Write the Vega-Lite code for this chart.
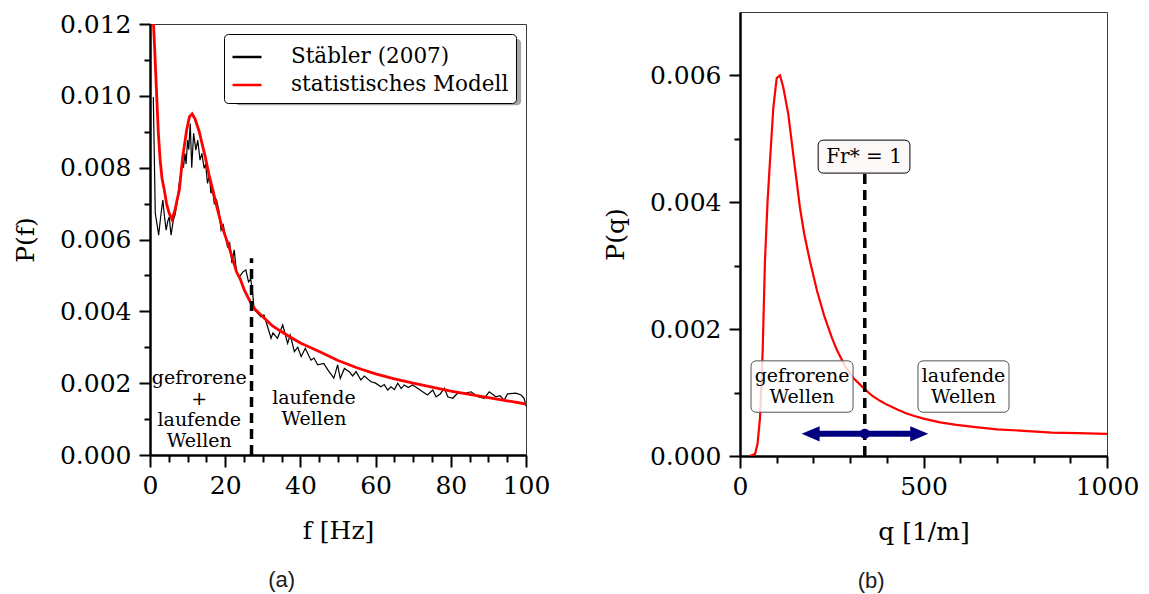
{
  "$schema": "https://vega.github.io/schema/vega-lite/v6.json",
  "padding": {"left": 12, "top": 11, "right": 5, "bottom": 5},
  "background": "white",
  "spacing": 51,
  "resolve": {"scale": {"color": "independent"}},
  "config": {
    "font": "DejaVu Serif",
    "view": {"stroke": "#3a3a3a", "strokeWidth": 1},
    "axis": {
      "labelFont": "DejaVu Serif", "labelFontSize": 25, "labelColor": "black",
      "titleFont": "DejaVu Serif", "titleFontSize": 25, "titleFontWeight": "normal", "titleColor": "black",
      "domainColor": "black", "domainWidth": 2.5, "tickColor": "black", "tickWidth": 2,
      "grid": false, "labelOverlap": false, "labelFlush": false
    }
  },
  "datasets": {
    "staebler": [
      {"f": 0.88, "P": 0.00997}, {"f": 1.4, "P": 0.00673}, {"f": 1.9, "P": 0.0064}, {"f": 2.3, "P": 0.00612},
      {"f": 2.8, "P": 0.0066}, {"f": 3.4, "P": 0.0071}, {"f": 3.9, "P": 0.0066}, {"f": 4.3, "P": 0.00626},
      {"f": 4.7, "P": 0.0065}, {"f": 5.1, "P": 0.00663}, {"f": 5.6, "P": 0.00612}, {"f": 6.2, "P": 0.00654},
      {"f": 6.7, "P": 0.0067}, {"f": 7.3, "P": 0.0071}, {"f": 7.7, "P": 0.0075}, {"f": 8.2, "P": 0.00784},
      {"f": 8.6, "P": 0.0082}, {"f": 8.9, "P": 0.008}, {"f": 9.3, "P": 0.0084}, {"f": 9.6, "P": 0.0081},
      {"f": 10.0, "P": 0.00877}, {"f": 10.3, "P": 0.0085}, {"f": 10.7, "P": 0.00923}, {"f": 11.1, "P": 0.008},
      {"f": 11.6, "P": 0.00896}, {"f": 12.2, "P": 0.00849}, {"f": 12.7, "P": 0.00877}, {"f": 13.3, "P": 0.00821},
      {"f": 13.8, "P": 0.0084}, {"f": 14.4, "P": 0.00798}, {"f": 14.8, "P": 0.0081}, {"f": 15.3, "P": 0.00756},
      {"f": 15.8, "P": 0.0078}, {"f": 16.2, "P": 0.00729}, {"f": 16.6, "P": 0.0074}, {"f": 17.1, "P": 0.007},
      {"f": 17.7, "P": 0.0071}, {"f": 18.3, "P": 0.00682}, {"f": 18.9, "P": 0.00626}, {"f": 19.5, "P": 0.0064},
      {"f": 19.9, "P": 0.00617}, {"f": 20.6, "P": 0.0058}, {"f": 21.2, "P": 0.0059}, {"f": 21.8, "P": 0.00534},
      {"f": 22.4, "P": 0.00571}, {"f": 23.0, "P": 0.0051}, {"f": 23.8, "P": 0.00496}, {"f": 24.7, "P": 0.0051},
      {"f": 25.5, "P": 0.00515}, {"f": 26.2, "P": 0.00482}, {"f": 26.8, "P": 0.0049}, {"f": 27.3, "P": 0.0045},
      {"f": 27.7, "P": 0.00405}, {"f": 28.6, "P": 0.00395}, {"f": 29.5, "P": 0.00385}, {"f": 30.3, "P": 0.0039},
      {"f": 31.2, "P": 0.0036}, {"f": 32.2, "P": 0.00325}, {"f": 32.7, "P": 0.0034}, {"f": 33.9, "P": 0.00325},
      {"f": 35.3, "P": 0.00362}, {"f": 36.6, "P": 0.00311}, {"f": 37.3, "P": 0.00334}, {"f": 38.4, "P": 0.00288},
      {"f": 39.3, "P": 0.003}, {"f": 40.2, "P": 0.00274}, {"f": 41.3, "P": 0.00297}, {"f": 42.8, "P": 0.00264},
      {"f": 43.6, "P": 0.0027}, {"f": 44.6, "P": 0.00251}, {"f": 46.2, "P": 0.00255}, {"f": 47.3, "P": 0.00237},
      {"f": 48.9, "P": 0.00214}, {"f": 49.9, "P": 0.00251}, {"f": 50.6, "P": 0.00213}, {"f": 51.7, "P": 0.00241},
      {"f": 53.0, "P": 0.00232}, {"f": 53.9, "P": 0.0022}, {"f": 54.8, "P": 0.00232}, {"f": 56.1, "P": 0.00209},
      {"f": 57.0, "P": 0.0022}, {"f": 58.8, "P": 0.00204}, {"f": 60.0, "P": 0.002}, {"f": 61.4, "P": 0.0019},
      {"f": 62.3, "P": 0.00196}, {"f": 63.2, "P": 0.00181}, {"f": 64.1, "P": 0.0019}, {"f": 65.0, "P": 0.00182},
      {"f": 65.9, "P": 0.002}, {"f": 66.8, "P": 0.00185}, {"f": 67.6, "P": 0.00195}, {"f": 68.7, "P": 0.00188},
      {"f": 69.8, "P": 0.00195}, {"f": 71.2, "P": 0.00186}, {"f": 72.5, "P": 0.00176}, {"f": 73.8, "P": 0.00167},
      {"f": 75.2, "P": 0.00181}, {"f": 76.1, "P": 0.00162}, {"f": 77.2, "P": 0.0017}, {"f": 78.3, "P": 0.00186},
      {"f": 79.2, "P": 0.00162}, {"f": 80.5, "P": 0.00158}, {"f": 81.8, "P": 0.00172}, {"f": 83.6, "P": 0.00172},
      {"f": 85.4, "P": 0.00176}, {"f": 87.2, "P": 0.00162}, {"f": 88.9, "P": 0.00158}, {"f": 90.2, "P": 0.00176},
      {"f": 91.0, "P": 0.0017}, {"f": 92.0, "P": 0.00162}, {"f": 93.1, "P": 0.00165}, {"f": 94.2, "P": 0.00153},
      {"f": 95.1, "P": 0.0017}, {"f": 97.3, "P": 0.00172}, {"f": 98.7, "P": 0.00167}, {"f": 99.5, "P": 0.00158},
      {"f": 100, "P": 0.00136}
    ],
    "modell": [
      {"f": 0.8, "P": 0.0123}, {"f": 1.2, "P": 0.0114}, {"f": 1.7, "P": 0.0102}, {"f": 2.2, "P": 0.009},
      {"f": 2.7, "P": 0.0082}, {"f": 3.2, "P": 0.0077}, {"f": 3.8, "P": 0.00738}, {"f": 4.4, "P": 0.007},
      {"f": 5.1, "P": 0.00673}, {"f": 5.85, "P": 0.00656}, {"f": 6.6, "P": 0.0068}, {"f": 7.2, "P": 0.0071},
      {"f": 7.8, "P": 0.00738}, {"f": 8.7, "P": 0.0083}, {"f": 9.75, "P": 0.00905}, {"f": 10.5, "P": 0.00942},
      {"f": 11.2, "P": 0.0095}, {"f": 12.0, "P": 0.00935}, {"f": 13.1, "P": 0.009}, {"f": 14.0, "P": 0.0086},
      {"f": 14.7, "P": 0.0083}, {"f": 15.7, "P": 0.0078}, {"f": 16.7, "P": 0.00738}, {"f": 17.8, "P": 0.0069},
      {"f": 18.9, "P": 0.00645}, {"f": 20.0, "P": 0.0061}, {"f": 21.0, "P": 0.0058}, {"f": 21.8, "P": 0.00552},
      {"f": 23.0, "P": 0.0051}, {"f": 24.0, "P": 0.0049}, {"f": 25.1, "P": 0.00459}, {"f": 26.0, "P": 0.0044},
      {"f": 27.0, "P": 0.0042}, {"f": 28.0, "P": 0.00405}, {"f": 30.0, "P": 0.00385}, {"f": 32.5, "P": 0.0036},
      {"f": 35.0, "P": 0.00343}, {"f": 37.5, "P": 0.00327}, {"f": 40.0, "P": 0.00312}, {"f": 45.0, "P": 0.00288},
      {"f": 50.0, "P": 0.00263}, {"f": 55.0, "P": 0.00243}, {"f": 60.0, "P": 0.00226}, {"f": 65.0, "P": 0.00212},
      {"f": 70.0, "P": 0.002}, {"f": 75.0, "P": 0.00189}, {"f": 80.0, "P": 0.00178}, {"f": 85.0, "P": 0.00169},
      {"f": 90.0, "P": 0.0016}, {"f": 95.0, "P": 0.00151}, {"f": 100.0, "P": 0.00142}
    ],
    "qkurve": [
      {"q": 27, "P": 0}, {"q": 41, "P": 0.00003}, {"q": 48, "P": 0.0002}, {"q": 54.5, "P": 0.0006},
      {"q": 58, "P": 0.0011}, {"q": 61.8, "P": 0.00166}, {"q": 65, "P": 0.0024}, {"q": 68, "P": 0.00307},
      {"q": 75, "P": 0.004}, {"q": 81.7, "P": 0.00465}, {"q": 90.8, "P": 0.00549}, {"q": 100, "P": 0.00596},
      {"q": 109, "P": 0.006}, {"q": 118, "P": 0.00581}, {"q": 131.6, "P": 0.00539}, {"q": 145, "P": 0.00476},
      {"q": 163.5, "P": 0.00391}, {"q": 175, "P": 0.0035}, {"q": 190.7, "P": 0.00307}, {"q": 210, "P": 0.0026},
      {"q": 230, "P": 0.0022}, {"q": 250, "P": 0.00187}, {"q": 263.4, "P": 0.00168}, {"q": 285, "P": 0.00143},
      {"q": 308.8, "P": 0.00123}, {"q": 340.6, "P": 0.00105}, {"q": 360, "P": 0.00095}, {"q": 381.5, "P": 0.00087},
      {"q": 400, "P": 0.00081}, {"q": 430, "P": 0.00073}, {"q": 454, "P": 0.00067}, {"q": 475, "P": 0.00063},
      {"q": 500, "P": 0.00059}, {"q": 545, "P": 0.00053}, {"q": 590, "P": 0.00049}, {"q": 636, "P": 0.00046},
      {"q": 700, "P": 0.00042}, {"q": 763, "P": 0.0004}, {"q": 850, "P": 0.00037}, {"q": 920, "P": 0.00036},
      {"q": 1000, "P": 0.00035}
    ]
  },
  "hconcat": [
    {
      "spacing": -2,
      "resolve": {"scale": {"color": "independent"}},
      "vconcat": [
        {
          "width": 376,
          "height": 1,
          "view": {"stroke": null},
          "data": {"values": [{}]},
          "mark": {"type": "rule", "opacity": 0},
          "encoding": {}
        },
        {
          "width": 376,
          "height": 431,
          "title": {"text": "(a)", "orient": "bottom", "frame": "bounds", "anchor": "middle", "font": "Liberation Sans", "fontSize": 22, "fontWeight": "normal", "color": "#1a1a1a", "offset": 27},
          "resolve": {"axis": {"x": "independent", "y": "independent"}},
          "layer": [
            {
              "data": {"values": [{"f1": 22.6, "f2": 98.7, "P1": 0.00974, "P2": 0.01158}]},
              "mark": {"type": "rect", "fill": "#a6a6a6", "cornerRadius": 4},
              "encoding": {
                "x": {"field": "f1", "type": "quantitative", "scale": {"domain": [0, 100], "nice": false},
                  "axis": {"orient": "bottom", "title": "f [Hz]", "values": [0, 20, 40, 60, 80, 100], "format": "d",
                    "tickSize": 12, "labelPadding": 6, "titlePadding": 20}},
                "x2": {"field": "f2"},
                "y": {"field": "P1", "type": "quantitative", "scale": {"domain": [0, 0.012], "nice": false},
                  "axis": {"orient": "left", "title": "P(f)", "values": [0, 0.002, 0.004, 0.006, 0.008, 0.01, 0.012], "format": ".3f",
                    "tickSize": 11, "labelPadding": 8, "titlePadding": 21}},
                "y2": {"field": "P2"}
              }
            },
            {
              "data": {"name": "staebler"},
              "mark": {"type": "line", "strokeWidth": 1.2, "clip": true},
              "encoding": {
                "x": {"field": "f", "type": "quantitative", "axis": null},
                "y": {"field": "P", "type": "quantitative", "axis": null},
                "color": {"datum": "Stäbler (2007)", "type": "nominal",
                  "scale": {"domain": ["Stäbler (2007)", "statistisches Modell"], "range": ["black", "#ff0000"]},
                  "legend": {"orient": "top-right", "offset": 10, "title": null, "labelFont": "DejaVu Serif", "labelFontSize": 21.5, "labelColor": "black",
                    "symbolType": "stroke", "symbolSize": 841, "symbolStrokeWidth": 2.5, "strokeColor": "black", "fillColor": "white",
                    "cornerRadius": 4, "padding": 7, "rowPadding": 1, "labelOffset": 28, "labelLimit": 400}}
              }
            },
            {
              "data": {"name": "modell"},
              "mark": {"type": "line", "strokeWidth": 2.8, "clip": true},
              "encoding": {
                "x": {"field": "f", "type": "quantitative", "axis": null},
                "y": {"field": "P", "type": "quantitative", "axis": null},
                "color": {"datum": "statistisches Modell", "type": "nominal"}
              }
            },
            {
              "data": {"values": [{"f": 27, "P": 0, "P2": 0.00548}]},
              "mark": {"type": "rule", "strokeWidth": 3.5, "strokeDash": [10, 6], "color": "black"},
              "encoding": {
                "x": {"field": "f", "type": "quantitative", "axis": null},
                "y": {"field": "P", "type": "quantitative", "axis": null},
                "y2": {"field": "P2"}
              }
            },
            {
              "data": {"values": [
                {"f": 13.1, "P": 0.00214, "label": "gefrorene\n+\nlaufende\nWellen"},
                {"f": 43.6, "P": 0.00159, "label": "laufende\nWellen"}
              ]},
              "mark": {"type": "text", "font": "DejaVu Serif", "fontSize": 19, "lineBreak": "\n", "lineHeight": 21, "align": "center", "baseline": "middle", "color": "black"},
              "encoding": {
                "x": {"field": "f", "type": "quantitative", "axis": null},
                "y": {"field": "P", "type": "quantitative", "axis": null},
                "text": {"field": "label"}
              }
            },
            {
              "data": {"name": "modell"},
              "mark": {"type": "point", "opacity": 0, "size": 0},
              "encoding": {
                "x": {"field": "f", "type": "quantitative",
                  "axis": {"orient": "bottom", "title": null, "labels": false, "domain": false, "tickSize": 7,
                    "values": [5, 10, 15, 25, 30, 35, 45, 50, 55, 65, 70, 75, 85, 90, 95]}},
                "y": {"field": "P", "type": "quantitative",
                  "axis": {"orient": "left", "title": null, "labels": false, "domain": false, "tickSize": 6,
                    "values": [0.001, 0.003, 0.005, 0.007, 0.009, 0.011]}}
              }
            }
          ]
        }
      ]
    },
    {
      "width": 367,
      "height": 444,
      "title": {"text": "(b)", "orient": "bottom", "frame": "bounds", "anchor": "middle", "font": "Liberation Sans", "fontSize": 22, "fontWeight": "normal", "color": "#1a1a1a", "offset": 27},
      "resolve": {"axis": {"x": "independent", "y": "independent"}},
      "layer": [
        {
          "data": {"name": "qkurve"},
          "mark": {"type": "line", "strokeWidth": 2.2, "color": "#ff0000", "clip": true},
          "encoding": {
            "x": {"field": "q", "type": "quantitative", "scale": {"domain": [0, 1000], "nice": false},
              "axis": {"orient": "bottom", "title": "q [1/m]", "values": [0, 500, 1000], "format": "d",
                "tickSize": 12, "labelPadding": 6, "titlePadding": 20}},
            "y": {"field": "P", "type": "quantitative", "scale": {"domain": [0, 0.007], "nice": false},
              "axis": {"orient": "left", "title": "P(q)", "values": [0, 0.002, 0.004, 0.006], "format": ".3f",
                "tickSize": 11, "labelPadding": 8, "titlePadding": 21}}
          }
        },
        {
          "data": {"values": [
            {"q": 30, "q2": 308, "P": 0.00069, "P2": 0.0015},
            {"q": 485, "q2": 733, "P": 0.00069, "P2": 0.0015}
          ]},
          "mark": {"type": "rect", "fill": "white", "fillOpacity": 0.82, "stroke": "#555555", "strokeWidth": 1, "cornerRadius": 5},
          "encoding": {
            "x": {"field": "q", "type": "quantitative", "axis": null},
            "x2": {"field": "q2"},
            "y": {"field": "P", "type": "quantitative", "axis": null},
            "y2": {"field": "P2"}
          }
        },
        {
          "data": {"values": [
            {"q": 169, "P": 0.00126, "label": "gefrorene\nWellen"},
            {"q": 609, "P": 0.00126, "label": "laufende\nWellen"}
          ]},
          "mark": {"type": "text", "font": "DejaVu Serif", "fontSize": 19, "lineBreak": "\n", "lineHeight": 21, "align": "center", "baseline": "middle", "color": "black"},
          "encoding": {
            "x": {"field": "q", "type": "quantitative", "axis": null},
            "y": {"field": "P", "type": "quantitative", "axis": null},
            "text": {"field": "label"}
          }
        },
        {
          "data": {"values": [{"q": 340, "P": 0, "P2": 0.00446}]},
          "mark": {"type": "rule", "strokeWidth": 3.5, "strokeDash": [10, 6], "color": "black"},
          "encoding": {
            "x": {"field": "q", "type": "quantitative", "axis": null},
            "y": {"field": "P", "type": "quantitative", "axis": null},
            "y2": {"field": "P2"}
          }
        },
        {
          "data": {"values": [{"q": 213, "q2": 463, "P": 0.00446, "P2": 0.00498}]},
          "mark": {"type": "rect", "fill": "#fdf8f8", "stroke": "black", "strokeWidth": 1, "cornerRadius": 5},
          "encoding": {
            "x": {"field": "q", "type": "quantitative", "axis": null},
            "x2": {"field": "q2"},
            "y": {"field": "P", "type": "quantitative", "axis": null},
            "y2": {"field": "P2"}
          }
        },
        {
          "data": {"values": [{"q": 338, "P": 0.00472, "label": "Fr* = 1"}]},
          "mark": {"type": "text", "font": "DejaVu Serif", "fontSize": 20, "align": "center", "baseline": "middle", "color": "black"},
          "encoding": {
            "x": {"field": "q", "type": "quantitative", "axis": null},
            "y": {"field": "P", "type": "quantitative", "axis": null},
            "text": {"field": "label"}
          }
        },
        {
          "data": {"values": [{"q": 192, "q2": 489, "P": 0.00035}]},
          "mark": {"type": "rule", "strokeWidth": 6, "color": "#000080"},
          "encoding": {
            "x": {"field": "q", "type": "quantitative", "axis": null},
            "x2": {"field": "q2"},
            "y": {"field": "P", "type": "quantitative", "axis": null}
          }
        },
        {
          "data": {"values": [{"q": 192.5, "P": 0.00035}]},
          "mark": {"type": "point", "shape": "M-1,0L1,-0.85L1,0.85Z", "size": 324, "filled": true, "color": "#000080", "opacity": 1},
          "encoding": {
            "x": {"field": "q", "type": "quantitative", "axis": null},
            "y": {"field": "P", "type": "quantitative", "axis": null}
          }
        },
        {
          "data": {"values": [{"q": 488.5, "P": 0.00035}]},
          "mark": {"type": "point", "shape": "M1,0L-1,-0.85L-1,0.85Z", "size": 324, "filled": true, "color": "#000080", "opacity": 1},
          "encoding": {
            "x": {"field": "q", "type": "quantitative", "axis": null},
            "y": {"field": "P", "type": "quantitative", "axis": null}
          }
        },
        {
          "data": {"values": [{"q": 340, "P": 0.00035}]},
          "mark": {"type": "circle", "size": 100, "color": "#000080", "opacity": 1},
          "encoding": {
            "x": {"field": "q", "type": "quantitative", "axis": null},
            "y": {"field": "P", "type": "quantitative", "axis": null}
          }
        },
        {
          "data": {"name": "qkurve"},
          "mark": {"type": "point", "opacity": 0, "size": 0},
          "encoding": {
            "x": {"field": "q", "type": "quantitative",
              "axis": {"orient": "bottom", "title": null, "labels": false, "domain": false, "tickSize": 7,
                "values": [100, 200, 300, 400, 600, 700, 800, 900]}},
            "y": {"field": "P", "type": "quantitative",
              "axis": {"orient": "left", "title": null, "labels": false, "domain": false, "tickSize": 6,
                "values": [0.001, 0.003, 0.005]}}
          }
        }
      ]
    }
  ]
}
